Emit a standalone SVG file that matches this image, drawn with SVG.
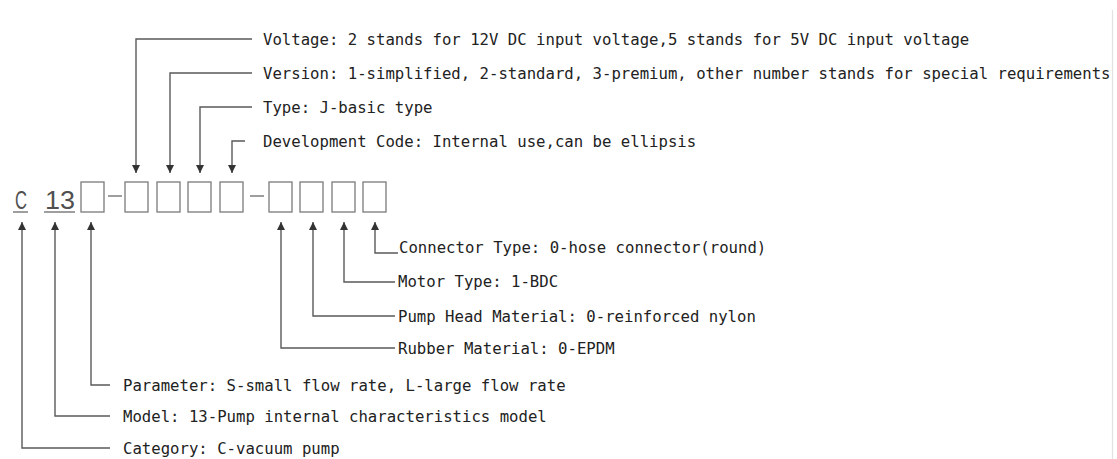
<svg xmlns="http://www.w3.org/2000/svg" width="1117" height="459" viewBox="0 0 1117 459">
  <style>
    .bg { fill: #ffffff; }
    .lbl { font-family: "DejaVu Sans Mono", "Liberation Mono", monospace; font-size: 15.65px; fill: #222222; }
    .code { font-family: "Liberation Sans", Arial, sans-serif; font-size: 26px; fill: #505050; }
    .slot { fill: none; stroke: #7a7a7a; stroke-width: 1.3; }
    .rule { stroke: #6a6a6a; stroke-width: 1.3; fill: none; }
    .lead { stroke: #5a5a5a; stroke-width: 1.4; fill: none; }
    .edge { stroke: #e2e2e2; stroke-width: 1.2; }
  </style>
  <defs>
    <marker id="tip" viewBox="0 0 10 10" refX="10" refY="5" markerWidth="8" markerHeight="8" markerUnits="userSpaceOnUse" orient="auto">
      <path d="M0,0 L10,5 L0,10 Z" fill="#333333"/>
    </marker>
  </defs>

  <rect class="bg" x="0" y="0" width="1117" height="459"/>
  <line class="edge" x1="1112.5" y1="10" x2="1112.5" y2="459"/>

  <!-- model code: C 13 [] - [][][][] - [][][][] -->
  <g id="code">
    <text class="code" x="15" y="209" textLength="12" lengthAdjust="spacingAndGlyphs">C</text>
    <line class="rule" x1="13" y1="212" x2="28" y2="212"/>
    <text class="code" x="45" y="209" textLength="30" lengthAdjust="spacingAndGlyphs">13</text>
    <line class="rule" x1="44" y1="212" x2="75" y2="212"/>
    <rect class="slot" x="81" y="182" width="23" height="30"/>
    <line class="rule" x1="108" y1="196" x2="122" y2="196"/>
    <rect class="slot" x="125" y="182" width="23" height="30"/>
    <rect class="slot" x="157" y="182" width="23" height="30"/>
    <rect class="slot" x="188" y="182" width="23" height="30"/>
    <rect class="slot" x="220" y="182" width="23" height="30"/>
    <line class="rule" x1="250" y1="196" x2="264" y2="196"/>
    <rect class="slot" x="269" y="182" width="23" height="30"/>
    <rect class="slot" x="300" y="182" width="23" height="30"/>
    <rect class="slot" x="332" y="182" width="23" height="30"/>
    <rect class="slot" x="363" y="182" width="23" height="30"/>
  </g>

  <!-- leader lines -->
  <g id="connectors">
    <path class="lead" d="M252,39 H136 V173" marker-end="url(#tip)"/>
    <path class="lead" d="M252,73 H170 V173" marker-end="url(#tip)"/>
    <path class="lead" d="M252,107 H200 V173" marker-end="url(#tip)"/>
    <path class="lead" d="M245,141 H232 V173" marker-end="url(#tip)"/>

    <path class="lead" d="M398,253 H375 V222" marker-end="url(#tip)"/>
    <path class="lead" d="M395,282 H344 V222" marker-end="url(#tip)"/>
    <path class="lead" d="M395,316 H313 V222" marker-end="url(#tip)"/>
    <path class="lead" d="M395,348 H281 V222" marker-end="url(#tip)"/>

    <path class="lead" d="M110,385 H91 V222" marker-end="url(#tip)"/>
    <path class="lead" d="M110,416 H55 V222" marker-end="url(#tip)"/>
    <path class="lead" d="M110,448 H22 V222" marker-end="url(#tip)"/>
  </g>

  <g id="voltage"><text class="lbl" x="263" y="45">Voltage: 2 stands for 12V DC input voltage,5 stands for 5V DC input voltage</text></g>
  <g id="version"><text class="lbl" x="263" y="79">Version: 1-simplified, 2-standard, 3-premium, other number stands for special requirements</text></g>
  <g id="type"><text class="lbl" x="263" y="113">Type: J-basic type</text></g>
  <g id="dev-code"><text class="lbl" x="263" y="147">Development Code: Internal use,can be ellipsis</text></g>

  <g id="connector-type"><text class="lbl" x="399" y="253">Connector Type: 0-hose connector(round)</text></g>
  <g id="motor-type"><text class="lbl" x="398" y="287">Motor Type: 1-BDC</text></g>
  <g id="pump-head"><text class="lbl" x="398" y="322">Pump Head Material: 0-reinforced nylon</text></g>
  <g id="rubber"><text class="lbl" x="398" y="354">Rubber Material: 0-EPDM</text></g>

  <g id="parameter"><text class="lbl" x="123" y="391">Parameter: S-small flow rate, L-large flow rate</text></g>
  <g id="model"><text class="lbl" x="123" y="422">Model: 13-Pump internal characteristics model</text></g>
  <g id="category"><text class="lbl" x="123" y="454">Category: C-vacuum pump</text></g>
</svg>
